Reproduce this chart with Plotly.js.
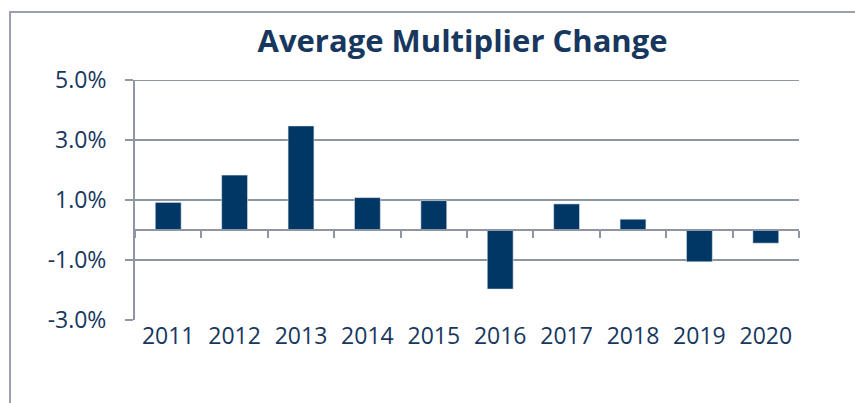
<!DOCTYPE html>
<html>
<head>
<meta charset="utf-8">
<script src="https://cdn.plot.ly/plotly-3.0.1.min.js"></script>
<style>
html,body{margin:0;padding:0;background:#fff;}
#chart{width:855px;height:403px;position:absolute;left:0;top:0;}
#frame{position:absolute;left:9px;top:11px;width:860px;height:400px;border-left:2px solid #9aa0ad;border-top:2px solid #9aa0ad;pointer-events:none;z-index:5;}
</style>
</head>
<body>
<div id="chart"></div>
<div id="frame"></div>
<script>
const years = ['2011','2012','2013','2014','2015','2016','2017','2018','2019','2020'];
const changePct = [0.92, 1.83, 3.47, 1.08, 0.98, -1.97, 0.87, 0.36, -1.06, -0.44];
const yTicks = [-3, -1, 1, 3, 5];
const yTickLabels = ['-3.0%', '-1.0%', '1.0%', '3.0%', '5.0%'];

const navy = '#003764';
const textColor = '#17375e';
const gridColor = '#8e95a3';

const traces = [
  {
    type: 'bar', x: years, y: changePct,
    marker: {color: navy, line: {color: '#e6eaf0', width: 0.6}},
    hoverinfo: 'x+y', showlegend: false
  },
  {
    type: 'scatter', mode: 'markers', x: years, y: changePct,
    xaxis: 'x2', marker: {opacity: 0}, hoverinfo: 'skip', showlegend: false
  }
];

const layout = {
  width: 855, height: 403,
  margin: {l: 135, r: 56, t: 79.5, b: 83},
  paper_bgcolor: '#ffffff', plot_bgcolor: '#ffffff',
  bargap: 0.61,
  font: {family: 'Open Sans, sans-serif', color: textColor},
  title: {
    text: '<b>Average Multiplier Change</b>',
    font: {family: 'Open Sans, sans-serif', size: 31, color: textColor},
    x: 0.541, xanchor: 'center', y: 0.898, yanchor: 'middle'
  },
  xaxis: {
    type: 'category', categoryarray: years, range: [-0.5, 9.5],
    showline: false, showgrid: false, zeroline: false, ticks: '',
    tickfont: {size: 23, color: textColor}, ticklabelstandoff: 0
  },
  xaxis2: {
    type: 'category', categoryarray: years, range: [-0.5, 9.5],
    overlaying: 'x', anchor: 'free', position: 0.375, side: 'bottom',
    showline: true, linecolor: gridColor, linewidth: 2,
    ticks: 'outside', tickson: 'boundaries', ticklen: 7, tickwidth: 2, tickcolor: gridColor,
    showticklabels: false, showgrid: false, zeroline: false
  },
  yaxis: {
    range: [-3, 5], tickvals: yTicks, ticktext: yTickLabels,
    showgrid: true, gridcolor: gridColor, gridwidth: 2,
    showline: true, linecolor: gridColor, linewidth: 2,
    ticks: 'outside', ticklen: 8, tickwidth: 2, tickcolor: gridColor,
    zeroline: false, tickfont: {size: 23, color: textColor}, ticklabelstandoff: 14
  },
  shapes: [
    {type: 'line', xref: 'paper', yref: 'y', x0: 0, x1: 1, y0: yTicks[yTicks.length - 1], y1: yTicks[yTicks.length - 1],
     line: {color: gridColor, width: 2}, layer: 'below'}
  ]
};

Plotly.newPlot('chart', traces, layout, {displayModeBar: false, staticPlot: true});
</script>
</body>
</html>
